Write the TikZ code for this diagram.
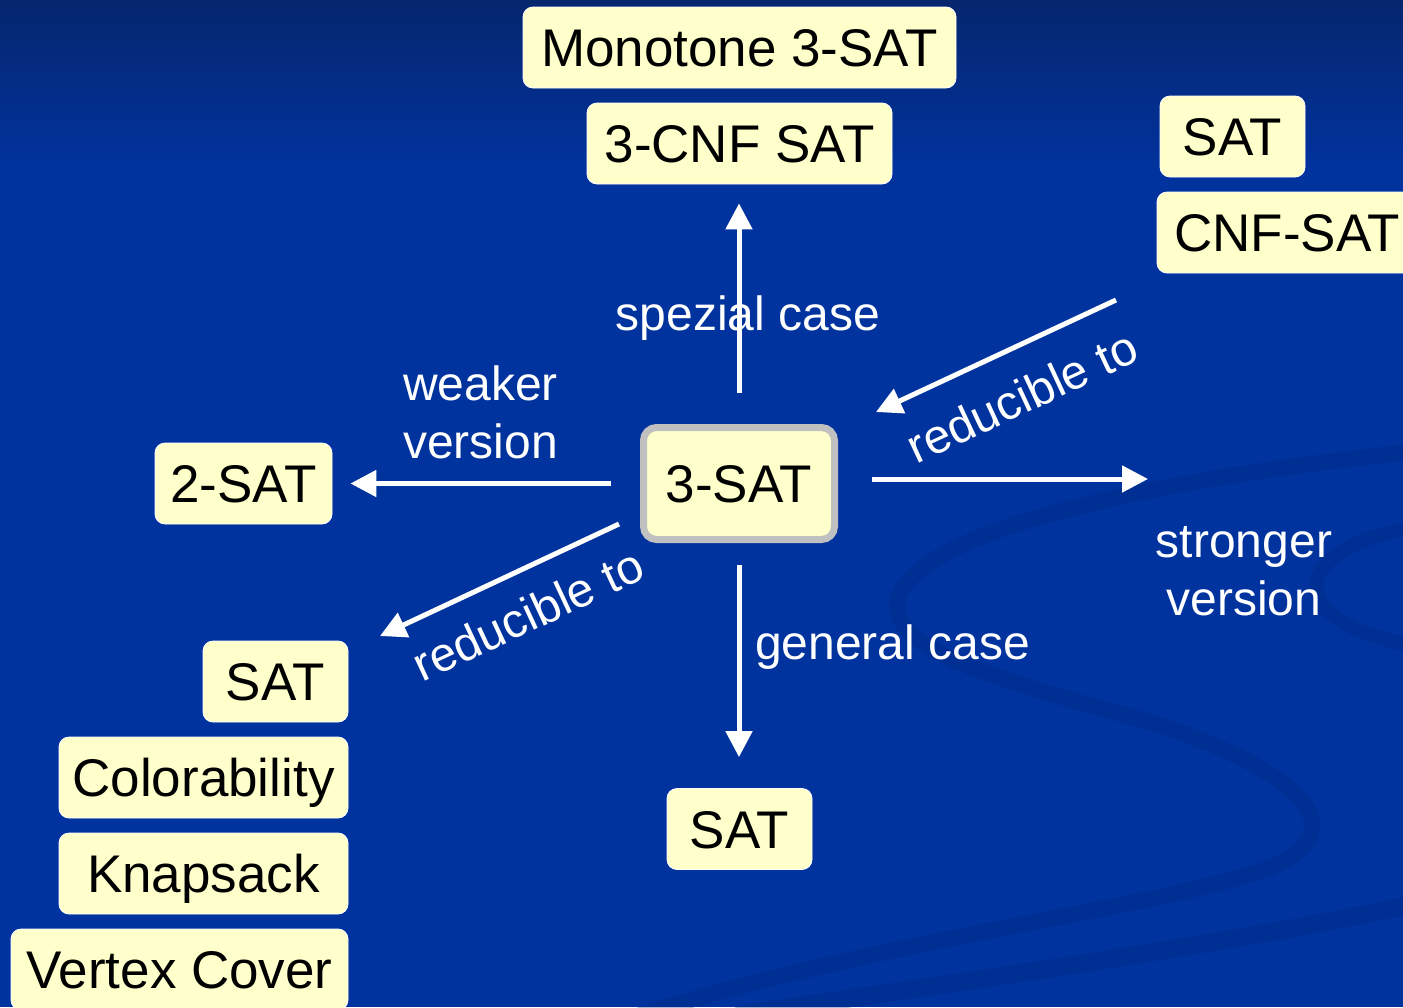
\documentclass[tikz,border=0pt]{standalone}
\usepackage{fontspec}
\setmainfont{Liberation Sans}
\usetikzlibrary{arrows.meta}
\definecolor{slide}{RGB}{0,51,158}
\definecolor{slidetop}{RGB}{6,38,110}
\definecolor{swirl}{RGB}{0,40,128}
\definecolor{boxfill}{RGB}{255,255,204}
\definecolor{rim}{RGB}{192,192,192}
\begin{document}
\begin{tikzpicture}[x=1pt,y=-1pt,
  box/.style={rounded corners=10pt, fill=boxfill, draw=white, line width=0.8pt,
    minimum height=81pt, inner sep=0pt, text=black,
    font=\fontsize{53pt}{60pt}\selectfont, text height=38pt, text depth=0pt},
  lbl/.style={text=white, inner sep=0pt, font=\fontsize{48pt}{57.5pt}\selectfont},
  arr/.style={draw=white, line width=5pt, -{Triangle[length=26pt,width=26pt]}}]

% slide background
\fill[slide] (0,0) rectangle (1403,1007);
\shade[top color=slidetop, bottom color=slide] (0,0) rectangle (1403,170);
\useasboundingbox (0,0) rectangle (1403,1007);

% faint swirl ornament
\begin{scope}[draw=swirl, opacity=0.3, line cap=round]
  \draw[line width=16pt] (1410,452) .. controls (1150,480) and (920,530) .. (898,598)
     .. controls (885,650) and (1000,680) .. (1150,722)
     .. controls (1300,770) and (1360,830) .. (1270,868)
     .. controls (1150,910) and (900,935) .. (640,1015);
  \draw[line width=14pt] (1410,528) .. controls (1290,550) and (1280,620) .. (1410,645);
  \draw[line width=18pt] (1410,905) .. controls (1200,950) and (900,990) .. (740,1015);
\end{scope}

% problem boxes
\node[box, minimum width=433pt] (mono) at (739.5,47.5) {Monotone 3-SAT};
\node[box, minimum width=305pt] (cnf3) at (739.5,143.5) {3-CNF SAT};
\node[box, minimum width=145pt] (satR) at (1232.5,136.5) {SAT};
\node[box, minimum width=260pt] (cnf) at (1287,232.5) {CNF-SAT};
\node[box, draw=rim, line width=7pt, rounded corners=13pt,
      minimum width=191pt, minimum height=112pt] (three) at (739,483.5) {3-SAT};
\node[box, minimum width=177pt] (two) at (243.5,483.5) {2-SAT};
\node[box, minimum width=145pt] (satB) at (739.5,829) {SAT};
\node[box, minimum width=145pt] (satL) at (275.5,681.5) {SAT};
\node[box, minimum width=289pt] (col) at (203.5,777.5) {Colorability};
\node[box, minimum width=289pt] (knap) at (203.5,873.5) {Knapsack};
\node[box, minimum width=337pt] (vc) at (179.5,969.5) {Vertex Cover};

% free arrow ends
\coordinate (strongEnd) at (1148,479);
\coordinate (ruA) at (1116,300);
\coordinate (ruB) at (876,412);
\coordinate (llA) at (619,524);
\coordinate (llB) at (380,636);

% arrows
\draw[arr, shorten <=31pt, shorten >=19pt] (three.north) -- (three.north |- cnf3.south);
\draw[arr, shorten <=22pt, shorten >=31pt] (three.south) -- (three.south |- satB.north);
\draw[arr, shorten <=29pt, shorten >=18pt] (three.west) -- (two.east);
\draw[arr, shorten <=34pt] (three.east |- strongEnd) -- (strongEnd);
\draw[arr] (ruA) -- (ruB);
\draw[arr] (llA) -- (llB);

% labels (multi-line nodes are anchored on the baseline of their last line)
\node[lbl, anchor=base] (spez) at (748,330) {spezial case};
\node[lbl, anchor=base west, align=left] (weak) at (403,458) {weaker\\version};
\node[lbl, anchor=base, align=center] (strongtxt) at (1244,615) {stronger\\version};
\node[lbl, anchor=base west] (gen) at (755,659) {general case};
\node[lbl, anchor=base, rotate=25] (red1) at (1029,412) {reducible to};
\node[lbl, anchor=base, rotate=25] (red2) at (535,630) {reducible to};
\end{tikzpicture}
\end{document}
